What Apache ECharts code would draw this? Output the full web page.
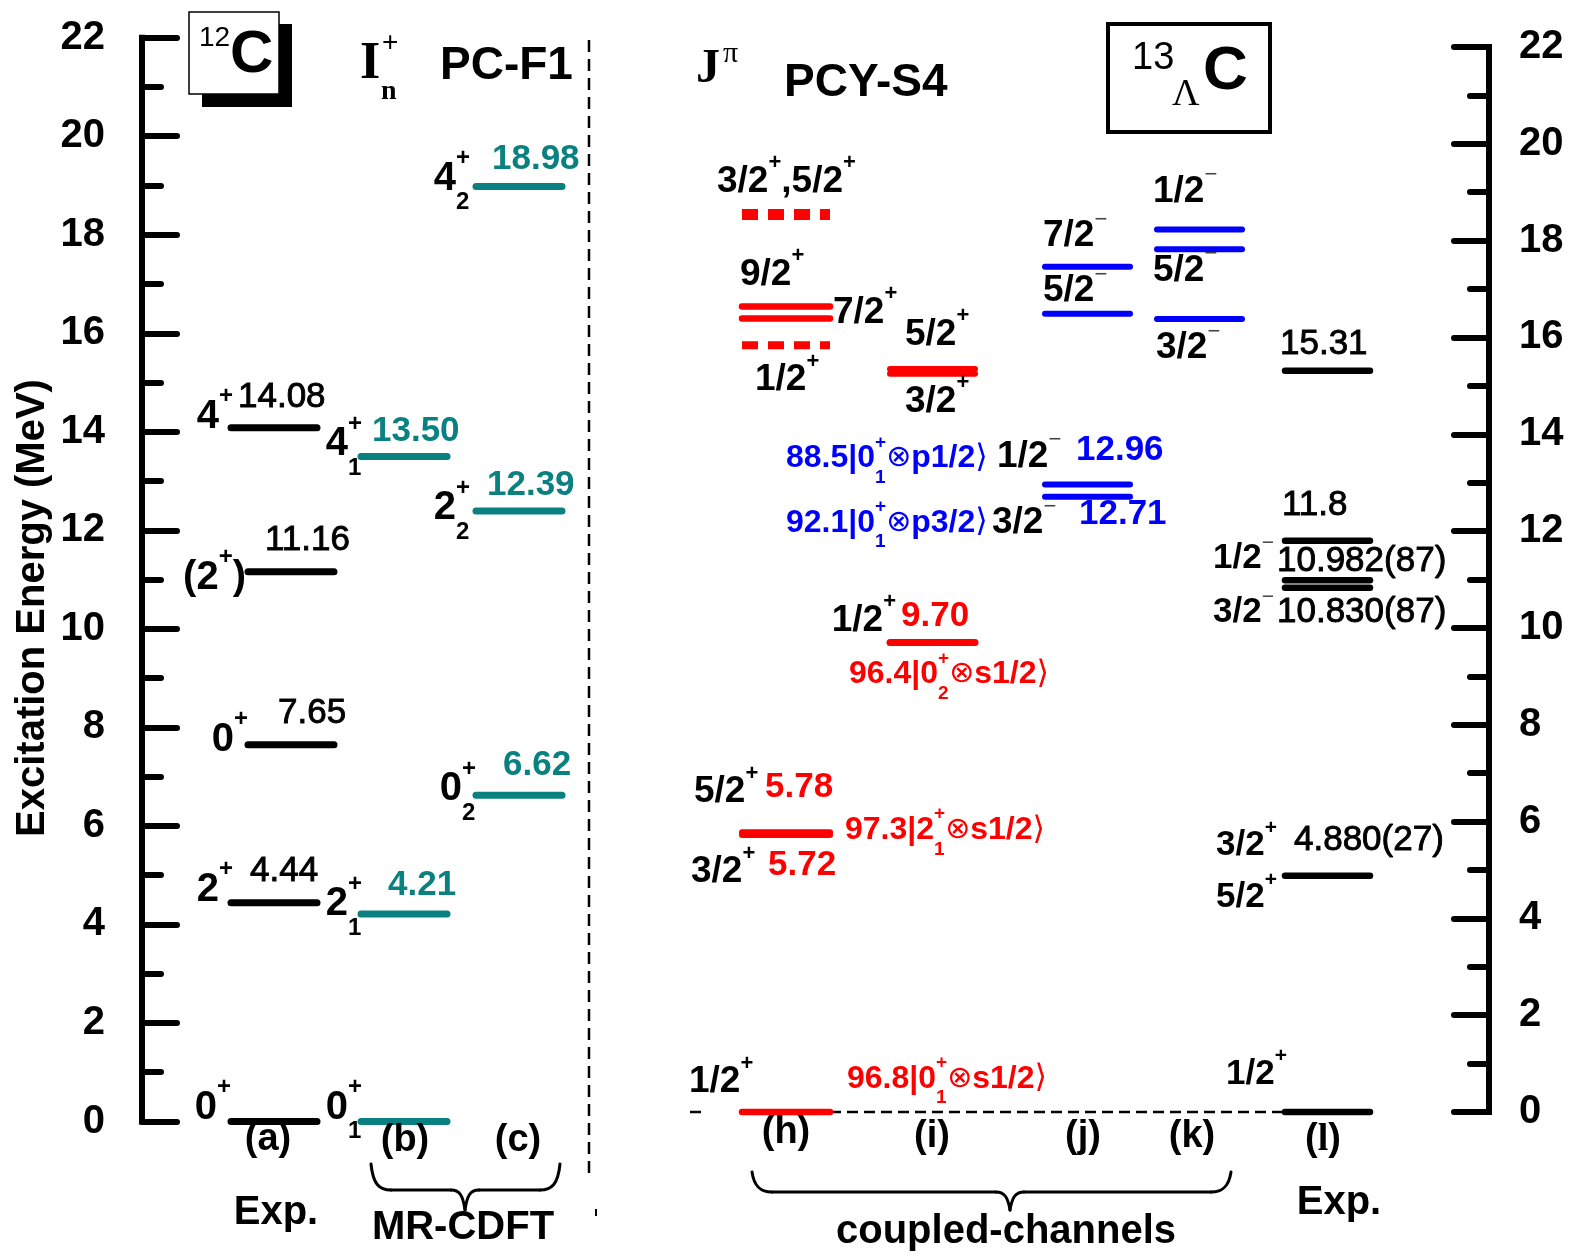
<!DOCTYPE html>
<html>
<head>
<meta charset="utf-8">
<script src="https://cdn.jsdelivr.net/npm/echarts@6/dist/echarts.min.js"></script>
<style>
  html, body { margin: 0; padding: 0; background: #fff; }
  #chart { width: 1574px; height: 1258px; }
</style>
</head>
<body>
<div id="chart"></div>
<script>
// ---------------- data ----------------
// energy axis ticks (MeV)
const energyTicks = [0, 2, 4, 6, 8, 10, 12, 14, 16, 18, 20, 22];

// 12C, experiment (a)
const c12ExpE = [0, 4.44, 7.65, 11.16, 14.08];
const c12ExpJ = ['0^+', '2^+', '0^+', '(2^+)', '4^+'];

// 12C, MR-CDFT (PC-F1): (b) first and (c) second states of each spin
const c12BE = [0, 4.21, 13.50];
const c12BJ = ['0_1^+', '2_1^+', '4_1^+'];
const c12CE = [6.62, 12.39, 18.98];
const c12CJ = ['0_2^+', '2_2^+', '4_2^+'];

// 13ΛC, coupled-channels (PCY-S4)
const hE = [0, 5.72, 5.78, 15.84, 16.39, 16.64, 18.54];
const hJ = ['1/2^+', '3/2^+', '5/2^+', '1/2^+', '7/2^+', '9/2^+', '3/2^+,5/2^+'];
const hDotted = [false, false, false, true, false, false, true];
const iE = [9.70, 15.25, 15.35];
const iJ = ['1/2^+', '3/2^+', '5/2^+'];
const jE = [12.71, 12.96, 16.49, 17.46];
const jJ = ['3/2^-', '1/2^-', '5/2^-', '7/2^-'];
const kE = [16.38, 17.82, 18.23];
const kJ = ['3/2^-', '5/2^-', '1/2^-'];

// 13ΛC, experiment (l)
const lE = [0, 4.880, 10.830, 10.982, 11.8, 15.31];
const lDigits = [0, 3, 3, 3, 1, 2];
const lErr = ['', '(27)', '(87)', '(87)', '', ''];
const lJ = ['1/2^+', '3/2^+', '3/2^-', '1/2^-', '', ''];

// dominant channel weights (%)
const compH0 = '96.8|0_1^+⊗s1/2⟩';
const compH1 = '97.3|2_1^+⊗s1/2⟩';
const compI0 = '96.4|0_2^+⊗s1/2⟩';
const compJ0 = '88.5|0_1^+⊗p1/2⟩';
const compJ1 = '92.1|0_1^+⊗p3/2⟩';

const columnTags = ['(a)', '(b)', '(c)', '(h)', '(i)', '(j)', '(k)', '(l)'];

// ---------------- styles / layout ----------------
const SANS = '"Liberation Sans", Arial, Helvetica, "DejaVu Sans", sans-serif';
const SERIF = '"Liberation Serif", "Times New Roman", "DejaVu Serif", serif';
const SYM = '"DejaVu Sans", sans-serif';
const TEAL = '#0a8080', RED = '#ff0000', BLUE = '#0000ff', BLACK = '#000000';

const GRID_L = { left: 142, top: 37.7, right: 589, bottom: 1121.5 };
const GRID_R = { left: 600, top: 47, right: 1489, bottom: 1112 };

// horizontal extent of each level column (page px along hidden x axes)
const cols = {
  a:  { g: 0, x: [231, 317], color: BLACK },
  a2: { g: 0, x: [248, 334], color: BLACK },
  b:  { g: 0, x: [361, 447], color: TEAL },
  c:  { g: 0, x: [476, 562], color: TEAL },
  h:  { g: 1, x: [742, 830], color: RED },
  i:  { g: 1, x: [890, 975], color: RED },
  j:  { g: 1, x: [1045, 1130], color: BLUE },
  k:  { g: 1, x: [1157, 1242], color: BLUE },
  l:  { g: 1, x: [1285, 1370], color: BLACK }
};

// ---------------- level lines ----------------
const levels0 = [], levels1 = [];
function addLevel(col, E, opt) {
  const c = cols[col];
  (c.g === 0 ? levels0 : levels1).push(Object.assign({ x0: c.x[0], x1: c.x[1], E: E, color: c.color, w: 7 }, opt || {}));
}
c12ExpE.forEach((E, i) => addLevel((i === 2 || i === 3) ? 'a2' : 'a', E));
c12BE.forEach(E => addLevel('b', E));
c12CE.forEach(E => addLevel('c', E));
// ground-state reference line across the hypernuclear columns
levels1.push({ x0: 690, x1: 704, E: lE[0], color: BLACK, w: 2.5, dash: [11, 6], z: 1 });
levels1.push({ x0: 830, x1: 1287, E: lE[0], color: BLACK, w: 2.5, dash: [11, 6], z: 1 });
hE.forEach((E, i) => {
  if (hDotted[i]) addLevel('h', E, { dash: [16, 10], w: i === 6 ? 11 : 8, cap: 'butt' });
  else addLevel('h', E, { w: (i === 1 || i === 2) ? 6 : 6.5 });
});
iE.forEach((E, i) => addLevel('i', E, { w: i === 0 ? 7 : 6 }));
jE.forEach(E => addLevel('j', E, { w: 6 }));
kE.forEach(E => addLevel('k', E, { w: 6 }));
lE.forEach(E => addLevel('l', E, { w: 6.5 }));

function levelSeries(gi, items) {
  return {
    type: 'custom',
    coordinateSystem: 'cartesian2d',
    xAxisIndex: gi, yAxisIndex: gi,
    silent: true, animation: false, clip: false,
    data: items.map(it => [it.x0, it.E, it.x1]),
    encode: { x: [0, 2], y: 1 },
    renderItem: function (params, api) {
      const it = items[params.dataIndex];
      const p0 = api.coord([api.value(0), api.value(1)]);
      const p1 = api.coord([api.value(2), api.value(1)]);
      return {
        type: 'line',
        z2: it.z || 10,
        shape: { x1: p0[0], y1: p0[1], x2: p1[0], y2: p1[1] },
        style: {
          stroke: it.color, lineWidth: it.w,
          lineCap: it.cap || (it.dash ? 'butt' : 'round'),
          lineDash: it.dash || null
        }
      };
    }
  };
}

function yAxisCfg(gi, pos, margin) {
  return {
    gridIndex: gi, type: 'value', position: pos,
    min: energyTicks[0], max: energyTicks[energyTicks.length - 1],
    interval: energyTicks[1] - energyTicks[0],
    axisLine: { show: true, onZero: false, lineStyle: { color: BLACK, width: 6, cap: 'square' } },
    axisTick: { show: true, inside: true, length: 35, lineStyle: { color: BLACK, width: 6, cap: 'round' } },
    minorTick: { show: true, splitNumber: 2, length: 19, lineStyle: { color: BLACK, width: 6, cap: 'round' } },
    splitLine: { show: false },
    minorSplitLine: { show: false },
    axisLabel: { show: true, margin: margin, color: BLACK, fontSize: 40, fontWeight: 'bold', fontFamily: SANS }
  };
}

const chart = echarts.init(document.getElementById('chart'), null, { renderer: 'canvas' });
chart.setOption({
  animation: false,
  backgroundColor: '#ffffff',
  grid: [
    { left: GRID_L.left, top: GRID_L.top, width: GRID_L.right - GRID_L.left, height: GRID_L.bottom - GRID_L.top, containLabel: false },
    { left: GRID_R.left, top: GRID_R.top, width: GRID_R.right - GRID_R.left, height: GRID_R.bottom - GRID_R.top, containLabel: false }
  ],
  xAxis: [
    { gridIndex: 0, type: 'value', min: GRID_L.left, max: GRID_L.right, show: false },
    { gridIndex: 1, type: 'value', min: GRID_R.left, max: GRID_R.right, show: false }
  ],
  yAxis: [yAxisCfg(0, 'left', 37), yAxisCfg(1, 'right', 30)],
  series: [levelSeries(0, levels0), levelSeries(1, levels1)]
});

// ---------------- text with super/subscripts ----------------
const mctx = document.createElement('canvas').getContext('2d');
function fontStr(size, weight, family) { return (weight || 'bold') + ' ' + size + 'px ' + (family || SANS); }
function measure(t, f) { mctx.font = f; return mctx.measureText(t).width; }

// "3/2^+"  -> superscript,  "0_1^+" -> stacked sub/sup
function parse(str) {
  const toks = [];
  for (let i = 0; i < str.length; i++) {
    const ch = str[i];
    if (ch === '^' || ch === '_') {
      const v = str[++i];
      const last = toks[toks.length - 1];
      if (ch === '^' && last && last.k === 'sub') { last.k = 'ss'; last.sup = v; continue; }
      toks.push({ k: ch === '^' ? 'sup' : 'sub', t: v });
    } else if (ch === '⊗' || ch === '⟩') {
      toks.push({ k: 'b', t: ch, w: 'normal', fam: SYM, sc: ch === '⟩' ? 1.0 : 0.95 });
    } else {
      const last = toks[toks.length - 1];
      if (last && last.k === 'b' && !last.w) last.t += ch;
      else toks.push({ k: 'b', t: ch });
    }
  }
  return toks;
}

function textEl(x, y, t, f, color, extra) {
  return Object.assign({
    type: 'text', x: x, y: y, silent: true, z: 100,
    style: {
      text: t, font: f, fill: color,
      align: 'left', verticalAlign: 'middle', textAlign: 'left', textVerticalAlign: 'middle'
    }
  }, extra || {});
}

// lay out tokens horizontally; y is the vertical middle of the base text
function run(x, y, toks, o) {
  const size = o.size || 36, color = o.color || BLACK, weight = o.weight || 'bold';
  const sSize = Math.round(size * (o.supScale || 0.6));
  const pieces = [];
  let cx = 0;
  toks.forEach(tk => {
    if (tk.k === 'ss') {
      const f = fontStr(sSize, 'bold', o.family);
      pieces.push({ t: tk.sup, x: cx, dy: -0.5 * size, f: f, c: color });
      pieces.push({ t: tk.t, x: cx, dy: 0.6 * size, f: f, c: color });
      cx += Math.max(measure(tk.sup, f), measure(tk.t, f));
    } else if (tk.k === 'sup' || tk.k === 'sub') {
      const minus = tk.t === '-';
      const t = minus ? '\u2212' : tk.t;
      const f = fontStr(sSize, minus ? 'normal' : 'bold', o.family);
      const dy = tk.k === 'sup' ? (minus ? -0.44 * size : -0.5 * size) : 0.6 * size;
      pieces.push({ t: t, x: cx, dy: dy, f: f, c: minus ? '#444' : color });
      cx += measure(t, f);
    } else {
      const f = fontStr(Math.round(size * (tk.sc || 1)), tk.w || weight, tk.fam || o.family);
      pieces.push({ t: tk.t, x: cx, dy: 0, f: f, c: color, stroke: o.stroke });
      cx += measure(tk.t, f);
    }
  });
  const x0 = o.align === 'right' ? x - cx : (o.align === 'center' ? x - cx / 2 : x);
  return pieces.map(p => {
    const el = textEl(x0 + p.x, y + p.dy, p.t, p.f, p.c);
    if (p.stroke) { el.style.stroke = p.c; el.style.lineWidth = p.stroke; }
    return el;
  });
}

function Y(gi, E) {
  const g = gi === 0 ? GRID_L : GRID_R;
  return chart.convertToPixel({ gridIndex: gi }, [g.left + 1, E])[1];
}

const G = [];
function lab(gi, E, x, dy, str, o) { G.push.apply(G, run(x, Y(gi, E) + dy, parse(str), o || {})); }
const f2 = v => v.toFixed(2);

// ---- 12C experiment ----
const expNum = { size: 35, weight: 'normal', stroke: 0.9 };
const spL = { size: 40, align: 'right' };
lab(0, c12ExpE[4], 233, -11, c12ExpJ[4], spL);
lab(0, c12ExpE[4], 238, -31, f2(c12ExpE[4]), expNum);
lab(0, c12ExpE[3], 246, 6, c12ExpJ[3], spL);
lab(0, c12ExpE[3], 265, -31, f2(c12ExpE[3]), expNum);
lab(0, c12ExpE[2], 248, -5, c12ExpJ[2], spL);
lab(0, c12ExpE[2], 278, -31, f2(c12ExpE[2]), expNum);
lab(0, c12ExpE[1], 233, -13, c12ExpJ[1], spL);
lab(0, c12ExpE[1], 250, -31, f2(c12ExpE[1]), expNum);
lab(0, c12ExpE[0], 231, -14, c12ExpJ[0], spL);

// ---- 12C MR-CDFT ----
const tealNum = { size: 35, color: TEAL };
lab(0, c12BE[2], 362, -12, c12BJ[2], spL);
lab(0, c12BE[2], 372, -25, f2(c12BE[2]), tealNum);
lab(0, c12BE[1], 362, -10, c12BJ[1], spL);
lab(0, c12BE[1], 388, -29, f2(c12BE[1]), tealNum);
lab(0, c12BE[0], 362, -14, c12BJ[0], spL);
lab(0, c12CE[2], 470, -8, c12CJ[2], spL);
lab(0, c12CE[2], 492, -27, f2(c12CE[2]), tealNum);
lab(0, c12CE[1], 470, -3, c12CJ[1], spL);
lab(0, c12CE[1], 487, -26, f2(c12CE[1]), tealNum);
lab(0, c12CE[0], 476, -6, c12CJ[0], spL);
lab(0, c12CE[0], 503, -30, f2(c12CE[0]), tealNum);

// ---- 13ΛC column (h) ----
const sp = { size: 37 };
const redNum = { size: 35, color: RED };
lab(1, hE[0], 689, -30, hJ[0], sp);
lab(1, hE[2], 694, -40, hJ[2], sp);
lab(1, hE[2], 765, -45, f2(hE[2]), redNum);
lab(1, hE[1], 691, 37, hJ[1], sp);
lab(1, hE[1], 768, 30, f2(hE[1]), redNum);
lab(1, hE[6], 717, -33, hJ[6], sp);
lab(1, hE[5], 740, -32, hJ[5], sp);
lab(1, hE[4], 833, -6, hJ[4], sp);
lab(1, hE[3], 755, 35, hJ[3], sp);
const comp = c => ({ size: 32, color: c });
lab(1, hE[2], 845, -2, compH1, comp(RED));
lab(1, hE[0], 847, -33, compH0, comp(RED));

// ---- column (i) ----
lab(1, iE[0], 896, -22, iJ[0], Object.assign({ align: 'right' }, sp));
lab(1, iE[0], 901, -26, f2(iE[0]), redNum);
lab(1, iE[0], 849, 32, compI0, comp(RED));
lab(1, iE[2], 905, -34, iJ[2], sp);
lab(1, iE[1], 905, 28, iJ[1], sp);

// ---- column (j) ----
const blueNum = { size: 35, color: BLUE };
lab(1, jE[3], 1043, -31, jJ[3], sp);
lab(1, jE[2], 1043, -23, jJ[2], sp);
lab(1, jE[1], 997, -28, jJ[1], sp);
lab(1, jE[1], 1076, -34, f2(jE[1]), blueNum);
lab(1, jE[0], 992, 26, jJ[0], sp);
lab(1, jE[0], 1079, 18, f2(jE[0]), blueNum);
lab(1, jE[1], 786, -26, compJ0, comp(BLUE));
lab(1, jE[0], 786, 26, compJ1, comp(BLUE));

// ---- column (k) ----
lab(1, kE[2], 1153, -38, kJ[2], sp);
lab(1, kE[1], 1153, 21, kJ[1], sp);
lab(1, kE[0], 1156, 29, kJ[0], sp);

// ---- column (l), experiment ----
const lNum = i => lE[i].toFixed(lDigits[i]) + lErr[i];
const spR = { size: 35 };
lab(1, lE[5], 1280, -27, lNum(5), expNum);
lab(1, lE[4], 1282, -35, lNum(4), expNum);
lab(1, lE[3], 1274, -22, lJ[3], Object.assign({ align: 'right' }, spR));
lab(1, lE[3], 1277, -19, lNum(3), expNum);
lab(1, lE[2], 1274, 25, lJ[2], Object.assign({ align: 'right' }, spR));
lab(1, lE[2], 1277, 25, lNum(2), expNum);
lab(1, lE[1], 1216, -30, lJ[1], spR);
lab(1, lE[1], 1294, -35, lNum(1), expNum);
lab(1, lE[1], 1216, 22, '5/2^+', spR);
lab(1, lE[0], 1226, -38, lJ[0], spR);

// ---- column tags and group captions ----
const tagPos = [[268, 1140], [405, 1141], [518, 1141], [786, 1133], [932, 1137], [1083, 1137], [1192, 1137], [1323, 1140]];
columnTags.forEach((t, i) => {
  if (t === '(l)') {
    G.push.apply(G, run(tagPos[i][0], tagPos[i][1], [{ k: 'b', t: '(' }, { k: 'b', t: 'l', fam: SERIF, w: 'bold' }, { k: 'b', t: ')', w: 'bold' }], { size: 38, align: 'center' }));
  } else {
    G.push.apply(G, run(tagPos[i][0], tagPos[i][1], parse(t), { size: 38, align: 'center' }));
  }
});
G.push.apply(G, run(276, 1213, parse('Exp.'), { size: 40, align: 'center' }));
G.push.apply(G, run(463, 1228, parse('MR-CDFT'), { size: 40, align: 'center' }));
G.push.apply(G, run(1006, 1232, parse('coupled-channels'), { size: 40, align: 'center' }));
G.push.apply(G, run(1339, 1203, parse('Exp.'), { size: 40, align: 'center' }));

// braces, drawn from curve and straight pieces
function brace(xl, xr, xt, yEnd, yBar, yTip) {
  const st = { stroke: BLACK, fill: null, lineWidth: 3, lineCap: 'round' };
  const r = 20;
  return [
    { type: 'bezierCurve', silent: true, z: 50, shape: { x1: xl, y1: yEnd, cpx1: xl + 2, cpy1: yBar - 6, cpx2: xl + 8, cpy2: yBar, x2: xl + r, y2: yBar }, style: st },
    { type: 'line', silent: true, z: 50, shape: { x1: xl + r, y1: yBar, x2: xt - 14, y2: yBar }, style: st },
    { type: 'bezierCurve', silent: true, z: 50, shape: { x1: xt - 14, y1: yBar, cpx1: xt - 5, cpy1: yBar, cpx2: xt - 2, cpy2: yBar + 6, x2: xt, y2: yTip }, style: st },
    { type: 'bezierCurve', silent: true, z: 50, shape: { x1: xt, y1: yTip, cpx1: xt + 2, cpy1: yBar + 6, cpx2: xt + 5, cpy2: yBar, x2: xt + 14, y2: yBar }, style: st },
    { type: 'line', silent: true, z: 50, shape: { x1: xt + 14, y1: yBar, x2: xr - r, y2: yBar }, style: st },
    { type: 'bezierCurve', silent: true, z: 50, shape: { x1: xr - r, y1: yBar, cpx1: xr - 8, cpy1: yBar, cpx2: xr - 2, cpy2: yBar - 6, x2: xr, y2: yEnd }, style: st }
  ];
}
G.push.apply(G, brace(371, 560, 465, 1164, 1190, 1210));
G.push.apply(G, brace(752, 1231, 1010, 1172, 1192, 1210));

// separator between the two nuclei
G.push({ type: 'line', silent: true, z: 40, shape: { x1: 589, y1: 40, x2: 589, y2: 1180 },
  style: { stroke: BLACK, lineWidth: 2.5, lineDash: [12, 7] } });
G.push({ type: 'line', silent: true, z: 40, shape: { x1: 596, y1: 1209, x2: 596, y2: 1216 },
  style: { stroke: BLACK, lineWidth: 2 } });

// axis title
G.push({
  type: 'text', silent: true, z: 100, x: 33, y: 608, rotation: Math.PI / 2,
  style: { text: 'Excitation Energy (MeV)', font: fontStr(40, 'bold'), fill: BLACK,
    align: 'center', verticalAlign: 'middle', textAlign: 'center', textVerticalAlign: 'middle' }
});

// 12C badge with drop shadow
G.push({ type: 'rect', silent: true, z: 60, shape: { x: 202, y: 24, width: 90, height: 83 }, style: { fill: BLACK } });
G.push({ type: 'rect', silent: true, z: 61, shape: { x: 189, y: 12, width: 90, height: 82 }, style: { fill: '#fff', stroke: BLACK, lineWidth: 1.5 } });
G.push(textEl(199, 38, '12', fontStr(28, 'normal'), BLACK, { z: 110 }));
G.push(textEl(230, 55, 'C', fontStr(60, 'bold'), BLACK, { z: 110 }));

// I_n^+   PC-F1
G.push(textEl(360, 65, 'I', fontStr(52, 'bold', SERIF), BLACK));
G.push(textEl(382, 43, '+', fontStr(28, 'normal'), BLACK));
G.push(textEl(381, 92, 'n', fontStr(28, 'bold', SERIF), BLACK));
G.push(textEl(440, 66, 'PC-F1', fontStr(46, 'bold'), BLACK));

// J^π   PCY-S4
G.push(textEl(696, 70, 'J', fontStr(48, 'bold', SERIF), BLACK));
G.push(textEl(723, 54, 'π', fontStr(30, 'normal', SERIF), BLACK));
G.push(textEl(784, 83, 'PCY-S4', fontStr(46, 'bold'), BLACK));

// 13ΛC badge
G.push({ type: 'rect', silent: true, z: 60, shape: { x: 1108, y: 24, width: 162, height: 108 }, style: { fill: '#fff', stroke: BLACK, lineWidth: 4 } });
G.push(textEl(1132, 59, '13', fontStr(38, 'normal'), BLACK, { z: 110 }));
G.push(textEl(1172, 95, 'Λ', fontStr(38, 'normal', SERIF), BLACK, { z: 110 }));
G.push(textEl(1203, 72, 'C', fontStr(62, 'bold'), BLACK, { z: 110 }));

chart.setOption({ graphic: { elements: G } });
</script>
</body>
</html>
